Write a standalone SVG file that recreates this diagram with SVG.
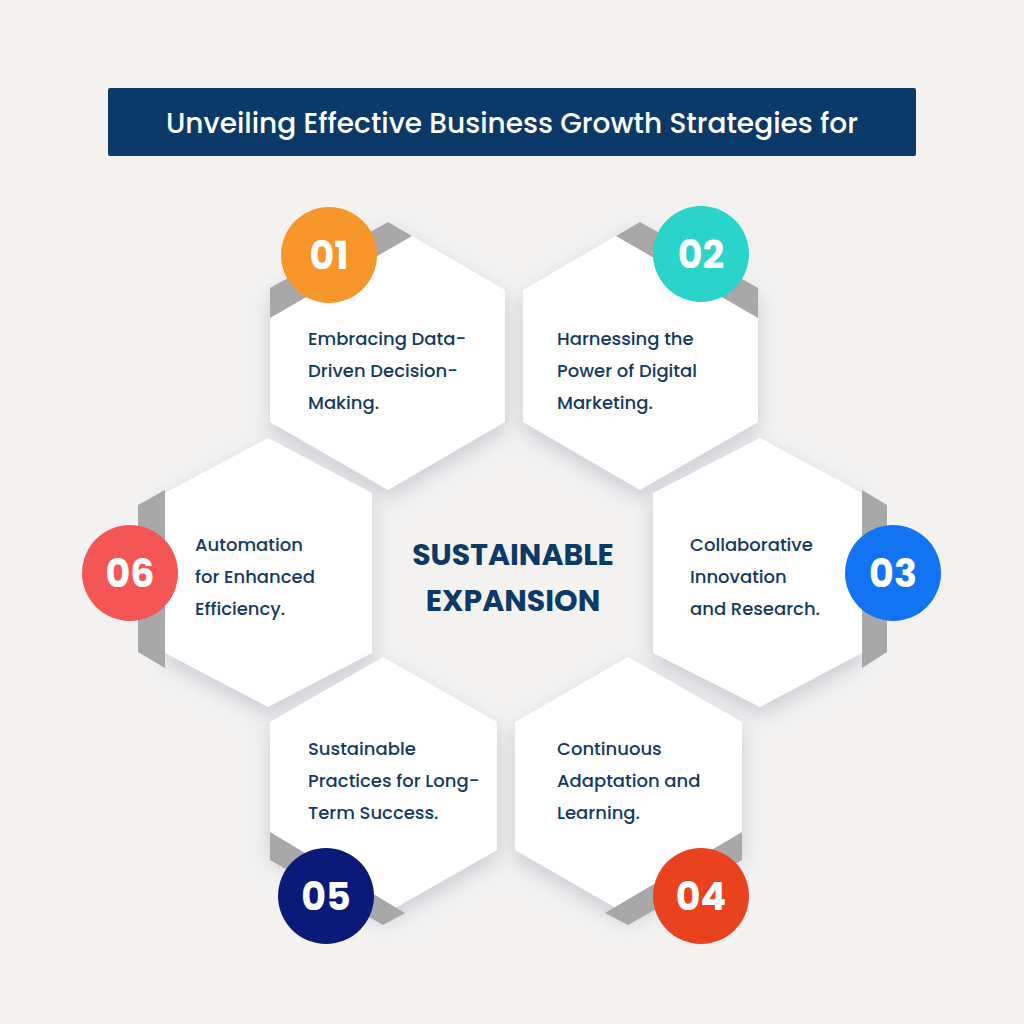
<svg xmlns="http://www.w3.org/2000/svg" width="1024" height="1024" viewBox="0 0 1024 1024">
<defs>
<filter id="sh" x="-20%" y="-20%" width="140%" height="140%"><feDropShadow dx="0" dy="8" stdDeviation="10" flood-color="#9a9cb0" flood-opacity="0.45"/></filter>
<style>
.hex{fill:#fff;filter:url(#sh)}
.g{fill:#a8a8a8}
.t{font-family:Poppins,"Open Sans","Liberation Sans",sans-serif;font-size:18px;fill:#143a63;font-weight:500}
.n{font-family:Poppins,"Open Sans","Liberation Sans",sans-serif;font-size:38px;fill:#fff;font-weight:700;text-anchor:middle}
.c{font-family:Poppins,"Open Sans","Liberation Sans",sans-serif;font-size:30px;fill:#0b3a68;font-weight:700;text-anchor:middle}
</style>
</defs>
<rect width="1024" height="1024" fill="#f3f2f1"/>
<g id="title"><rect x="108" y="88" width="808" height="68" fill="#0b3a68" rx="2"/>
<text x="512" y="133" text-anchor="middle" font-family="Poppins,'Open Sans','Liberation Sans',sans-serif" font-size="28" font-weight="500" fill="#fff">Unveiling Effective Business Growth Strategies for</text></g>
<g id="connectors"/>
<g id="n01"><polygon class="hex" points="388,222 505,290 505,422 388,490 270,422 270,290"/><polygon class="g" points="270,288 388,222 412,236 270,318"/><circle cx="329" cy="255" r="48" fill="#f7962a"/><text class="n" x="329" y="269">01</text>
<text class="t" x="308" y="345">Embracing Data-</text><text class="t" x="308" y="377">Driven Decision-</text><text class="t" x="308" y="409">Making.</text></g>
<g id="n02"><polygon class="hex" points="640,222 758,290 758,422 640,490 523,422 523,290"/><polygon class="g" points="640,222 758,288 758,318 616,236"/><circle cx="701" cy="254" r="48" fill="#2ad4cb"/><text class="n" x="701" y="268">02</text>
<text class="t" x="557" y="345">Harnessing the</text><text class="t" x="557" y="377">Power of Digital</text><text class="t" x="557" y="409">Marketing.</text></g>
<g id="n06"><polygon class="hex" points="268,438 372,493 372,653 268,707 165,653 165,493"/><polygon class="g" points="138,505 165,490 165,668 138,652"/><circle cx="130" cy="573" r="48" fill="#f45656"/><text class="n" x="130" y="587">06</text>
<text class="t" x="195" y="551">Automation</text><text class="t" x="195" y="583">for Enhanced</text><text class="t" x="195" y="615">Efficiency.</text></g>
<g id="n03"><polygon class="hex" points="760,438 862,493 862,653 760,707 653,653 653,493"/><polygon class="g" points="862,490 887,505 887,652 862,668"/><circle cx="893" cy="573" r="48" fill="#1274f2"/><text class="n" x="893" y="587">03</text>
<text class="t" x="690" y="551">Collaborative</text><text class="t" x="690" y="583">Innovation</text><text class="t" x="690" y="615">and Research.</text></g>
<g id="n05"><polygon class="hex" points="383,657 497,722 497,850 383,915 270,850 270,722"/><polygon class="g" points="270,832 405,913 383,925 270,860"/><circle cx="326" cy="896" r="48" fill="#0a1a78"/><text class="n" x="326" y="910">05</text>
<text class="t" x="308" y="755">Sustainable</text><text class="t" x="308" y="787">Practices for Long-</text><text class="t" x="308" y="819">Term Success.</text></g>
<g id="n04"><polygon class="hex" points="628,657 742,722 742,850 628,915 515,850 515,722"/><polygon class="g" points="742,832 742,860 628,925 605,913"/><circle cx="701" cy="896" r="48" fill="#e8421e"/><text class="n" x="701" y="910">04</text>
<text class="t" x="557" y="755">Continuous</text><text class="t" x="557" y="787">Adaptation and</text><text class="t" x="557" y="819">Learning.</text></g>
<g id="center"><text class="c" x="513" y="565">SUSTAINABLE</text><text class="c" x="513" y="611">EXPANSION</text></g>
</svg>
